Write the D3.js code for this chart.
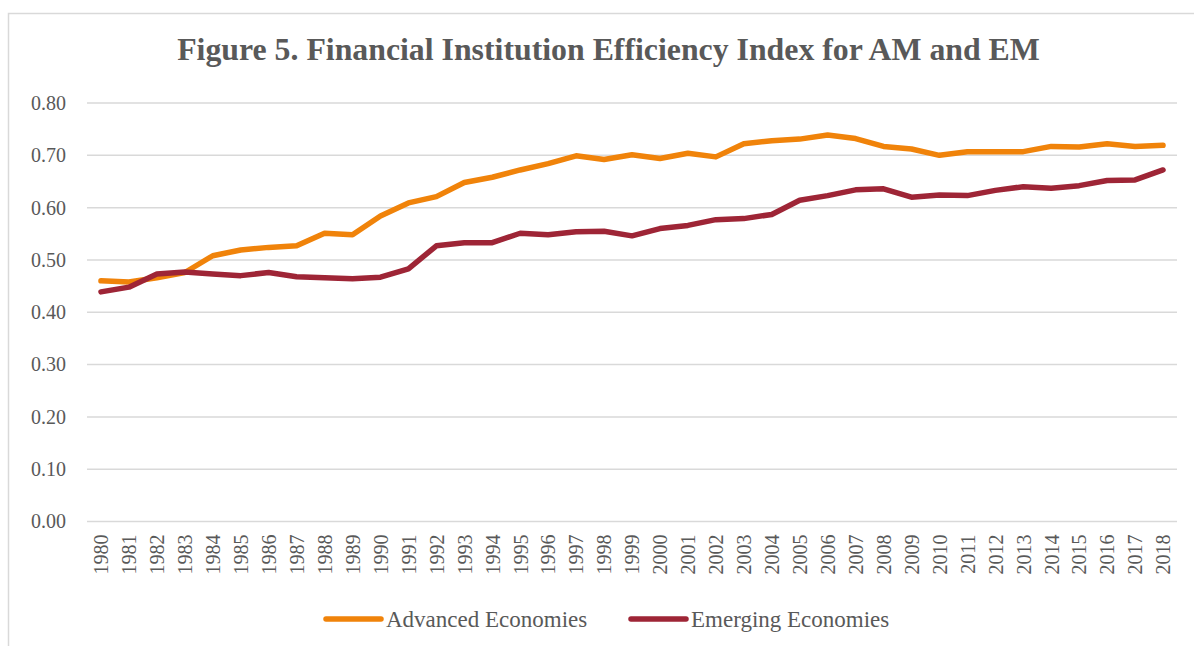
<!DOCTYPE html>
<html>
<head>
<meta charset="utf-8">
<script src="https://cdn.jsdelivr.net/npm/d3@7"></script>
<style>
  body { margin: 0; background: #fff; }
</style>
</head>
<body>
<div id="chart"></div>
<script>
// years along the category axis
const years = d3.range(1980, 2019).map(String);

// index values
const advanced = [0.460, 0.458, 0.466, 0.476, 0.508, 0.519, 0.524, 0.527, 0.551, 0.548,
                  0.584, 0.609, 0.621, 0.648, 0.658, 0.672, 0.684, 0.699, 0.692, 0.701,
                  0.694, 0.704, 0.697, 0.722, 0.728, 0.731, 0.739, 0.732, 0.717, 0.712,
                  0.700, 0.707, 0.707, 0.707, 0.717, 0.716, 0.722, 0.717, 0.719];
const emerging = [0.439, 0.448, 0.473, 0.477, 0.473, 0.470, 0.476, 0.468, 0.466, 0.464,
                  0.467, 0.483, 0.527, 0.533, 0.533, 0.551, 0.548, 0.554, 0.555, 0.546,
                  0.560, 0.566, 0.577, 0.579, 0.587, 0.614, 0.623, 0.634, 0.636, 0.620,
                  0.624, 0.623, 0.633, 0.640, 0.637, 0.642, 0.652, 0.653, 0.672];

const yTicks = [0, 0.1, 0.2, 0.3, 0.4, 0.5, 0.6, 0.7, 0.8];
const seriesNames = ["Advanced Economies", "Emerging Economies"];
const seriesColors = ["#F0830A", "#9E2536"];

const FONT = "Liberation Serif";
const width = 1194, height = 646;
const plot = {left: 87, right: 1177, top: 103, bottom: 521.5};

const svg = d3.select("#chart").append("svg")
    .attr("width", width)
    .attr("height", height);

// chart area border
svg.append("rect")
    .attr("x", 8.5).attr("y", 13.5)
    .attr("width", width + 10).attr("height", height + 10)
    .attr("fill", "none")
    .attr("stroke", "#d9d9d9")
    .attr("stroke-width", 1.5);

// title, scaled to the width it has in the figure
const title = svg.append("text")
    .attr("x", 608.5).attr("y", 60)
    .attr("text-anchor", "middle")
    .attr("font-weight", "bold")
    .attr("font-size", 28)
    .attr("font-family", FONT)
    .attr("fill", "#595959")
    .text("Figure 5. Financial Institution Efficiency Index for AM and EM");
const tLen = title.node().getComputedTextLength();
title.attr("font-size", 28 * 863 / tLen);

const x = d3.scalePoint().domain(years).range([plot.left, plot.right]).padding(0.5);
const y = d3.scaleLinear().domain([0, 0.8]).range([plot.bottom, plot.top]);

// gridlines
svg.append("g").selectAll("line")
    .data(yTicks)
    .join("line")
    .attr("x1", plot.left).attr("x2", plot.right)
    .attr("y1", d => y(d)).attr("y2", d => y(d))
    .attr("stroke", "#d9d9d9")
    .attr("stroke-width", 1.5);

// y axis labels
const yAxis = d3.axisLeft(y).tickValues(yTicks).tickFormat(d3.format(".2f")).tickSize(0).tickPadding(21);
const gy = svg.append("g").attr("transform", `translate(${plot.left},0)`).call(yAxis);
gy.attr("font-family", FONT).attr("font-size", 20);
gy.select(".domain").remove();
gy.selectAll("text").attr("fill", "#595959");

// x axis labels, rotated
const xAxis = d3.axisBottom(x).tickSize(0);
const gx = svg.append("g").attr("transform", `translate(0,${plot.bottom})`).call(xAxis);
gx.attr("font-family", FONT).attr("font-size", 20);
gx.select(".domain").remove();
gx.selectAll("text")
    .attr("fill", "#595959")
    .attr("text-anchor", "end")
    .attr("transform", "rotate(-90)")
    .attr("x", -13)
    .attr("y", 0)
    .attr("dy", "0.34em");

// series lines
const line = d3.line()
    .x((d, i) => x(years[i]))
    .y(d => y(d));

[advanced, emerging].forEach((vals, i) => {
    svg.append("path")
        .datum(vals)
        .attr("d", line)
        .attr("fill", "none")
        .attr("stroke", seriesColors[i])
        .attr("stroke-width", 5.5)
        .attr("stroke-linejoin", "round")
        .attr("stroke-linecap", "round");
});

// legend
const legendX = [326, 631];
seriesNames.forEach((name, i) => {
    const g = svg.append("g").attr("transform", `translate(${legendX[i]},619)`);
    g.append("line")
        .attr("x1", 0).attr("x2", 55)
        .attr("y1", 0).attr("y2", 0)
        .attr("stroke", seriesColors[i])
        .attr("stroke-width", 5.5)
        .attr("stroke-linecap", "round");
    g.append("text")
        .attr("x", 60).attr("y", 8)
        .attr("font-size", 23)
        .attr("font-family", FONT)
        .attr("fill", "#595959")
        .text(name);
});
</script>
</body>
</html>
